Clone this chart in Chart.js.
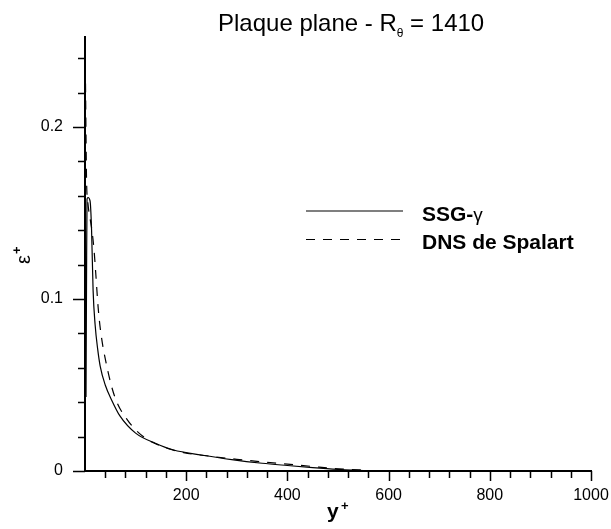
<!DOCTYPE html>
<html>
<head>
<meta charset="utf-8">
<script src="https://cdn.jsdelivr.net/npm/chart.js@4.4.0/dist/chart.umd.min.js"></script>
<style>
  body { margin: 0; background: #fff; }
  #wrap { width: 611px; height: 529px; }
</style>
</head>
<body>
<div id="wrap"><canvas id="chart_one"></canvas></div>
<script>
// SSG-gamma model
let ssgYplus = [2, 3, 4, 6, 10, 13, 16, 20, 25, 30, 40, 53, 69, 100, 140, 175, 230, 290, 350, 400, 450, 500, 550, 600];
let ssgEps = [0.043, 0.11, 0.158, 0.159, 0.157, 0.14, 0.105, 0.085, 0.071, 0.061, 0.050, 0.041, 0.032, 0.022, 0.016, 0.0122, 0.0093, 0.0066, 0.0045, 0.0032, 0.002, 0.001, 0.0003, 0];
// DNS Spalart
let dnsYplus = [0, 1, 2, 3, 6, 10, 14.5, 18, 21, 26, 31, 43, 59, 83, 115, 155, 195, 250, 300, 350, 400, 450, 500, 560];
let dnsEps = [0.245, 0.225, 0.195, 0.17, 0.155, 0.147, 0.138, 0.128, 0.116, 0.095, 0.081, 0.061, 0.043, 0.030, 0.020, 0.014, 0.0107, 0.0085, 0.0068, 0.0053, 0.004, 0.0026, 0.0013, 0.0004];

let seriesNames = ["SSG-\u03b3", "DNS de Spalart"];
let xMajor = 200, xMinor = 40, yMajor = 0.1, yMinor = 0.02;

const FONT = '"Liberation Sans", Arial, sans-serif';

function pts(xs, ys) {
    return xs.map((x, i) => ({x: x, y: ys[i]}));
}
function isMult(v, step) {
    let r = v / step;
    return Math.abs(r - Math.round(r)) < 1e-6;
}

// ticks, title, axis titles and legend
const decor = {
    id: "decor",
    afterDraw(chart) {
        const ctx = chart.ctx, xs = chart.scales.x, ys = chart.scales.y;
        const area = chart.chartArea;
        ctx.save();
        ctx.strokeStyle = "#000";
        ctx.lineWidth = 1.5;
        ctx.beginPath();
        xs.ticks.forEach(t => {
            if (t.value === 0 || !isMult(t.value, xMinor)) return;
            const px = Math.round(xs.getPixelForValue(t.value)) + 0.5;
            const len = isMult(t.value, xMajor) ? 10 : 7;
            ctx.moveTo(px, area.bottom);
            ctx.lineTo(px, area.bottom + len);
        });
        ys.ticks.forEach(t => {
            if (!isMult(t.value, yMinor)) return;
            const py = Math.round(ys.getPixelForValue(t.value)) + 0.5;
            const len = isMult(t.value, yMajor) ? 12 : 7;
            ctx.moveTo(area.left, py);
            ctx.lineTo(area.left - len, py);
        });
        ctx.stroke();

        // title
        ctx.fillStyle = "#000";
        ctx.textBaseline = "alphabetic";
        ctx.textAlign = "left";
        ctx.font = "24px " + FONT;
        let tx = 218;
        const t1 = "Plaque plane - R";
        ctx.fillText(t1, tx, 31);
        tx += ctx.measureText(t1).width;
        ctx.font = "12px " + FONT;
        ctx.fillText("\u03b8", tx, 37);
        tx += ctx.measureText("\u03b8").width;
        ctx.font = "24px " + FONT;
        ctx.fillText(" = 1410", tx, 31);

        // x axis title
        ctx.font = "bold 21px " + FONT;
        ctx.fillText("y", 327, 518);
        ctx.font = "bold 13px " + FONT;
        ctx.fillText("+", 341, 510);

        // y axis title
        ctx.save();
        ctx.translate(30, 264);
        ctx.rotate(-Math.PI / 2);
        ctx.font = "20px " + FONT;
        ctx.fillText("\u03b5", 0, 0);
        ctx.font = "bold 13px " + FONT;
        ctx.fillText("+", 10, -9);
        ctx.restore();

        // legend
        chart.data.datasets.forEach((ds, i) => {
            const ly = 211 + i * 28.5;
            ctx.save();
            ctx.lineWidth = ds.borderWidth;
            ctx.setLineDash(ds.borderDash || []);
            ctx.beginPath();
            ctx.moveTo(306, ly);
            ctx.lineTo(403, ly);
            ctx.stroke();
            ctx.restore();
            ctx.font = "bold 21px " + FONT;
            ctx.textBaseline = "middle";
            let lbl = ds.label;
            if (lbl.endsWith("\u03b3")) {
                let head = lbl.slice(0, -1);
                ctx.fillText(head, 422, ly + 4);
                let w = ctx.measureText(head).width;
                ctx.font = "19px " + FONT;
                ctx.fillText("\u03b3", 422 + w, ly + 5);
            } else {
                ctx.fillText(lbl, 422, ly + 4);
            }
        });
        ctx.restore();
    }
};

var Chart1 = new Chart("chart_one", {
    type: "line",
    data: {
        datasets: [{
            label: seriesNames[0],
            data: pts(ssgYplus, ssgEps),
            borderColor: "#000",
            borderWidth: 1.2,
            pointRadius: 0,
            cubicInterpolationMode: "monotone"
        }, {
            label: seriesNames[1],
            data: pts(dnsYplus, dnsEps),
            borderColor: "#000",
            borderWidth: 1.2,
            borderDash: [9, 8],
            pointRadius: 0,
            cubicInterpolationMode: "monotone"
        }]
    },
    options: {
        responsive: true,
        maintainAspectRatio: false,
        animation: false,
        layout: { padding: { left: 0, top: 37, right: 20, bottom: 0 } },
        plugins: {
            legend: { display: false },
            title: { display: false },
            tooltip: { enabled: false }
        },
        scales: {
            x: {
                type: "linear",
                min: 0,
                max: 1000,
                grid: { display: false, drawTicks: false },
                border: { display: true, color: "#000", width: 2 },
                ticks: {
                    stepSize: xMinor,
                    autoSkip: false,
                    maxRotation: 0,
                    padding: 15,
                    color: "#000",
                    font: { family: FONT, size: 16 },
                    callback: v => (v !== 0 && isMult(v, xMajor)) ? String(v) : ""
                },
                afterFit: s => { s.height = 58; s.paddingLeft = 0; s.paddingRight = 0; }
            },
            y: {
                type: "linear",
                min: 0,
                max: 0.2523,
                grid: { display: false, drawTicks: false },
                border: { display: true, color: "#000", width: 2 },
                ticks: {
                    stepSize: yMinor,
                    autoSkip: false,
                    padding: 22,
                    color: "#000",
                    font: { family: FONT, size: 16 },
                    callback: v => isMult(v, yMajor) ? String(Math.round(v * 10) / 10) : ""
                },
                afterFit: s => { s.width = 85; s.paddingTop = 0; s.paddingBottom = 0; }
            }
        }
    },
    plugins: [decor]
});
</script>
</body>
</html>
